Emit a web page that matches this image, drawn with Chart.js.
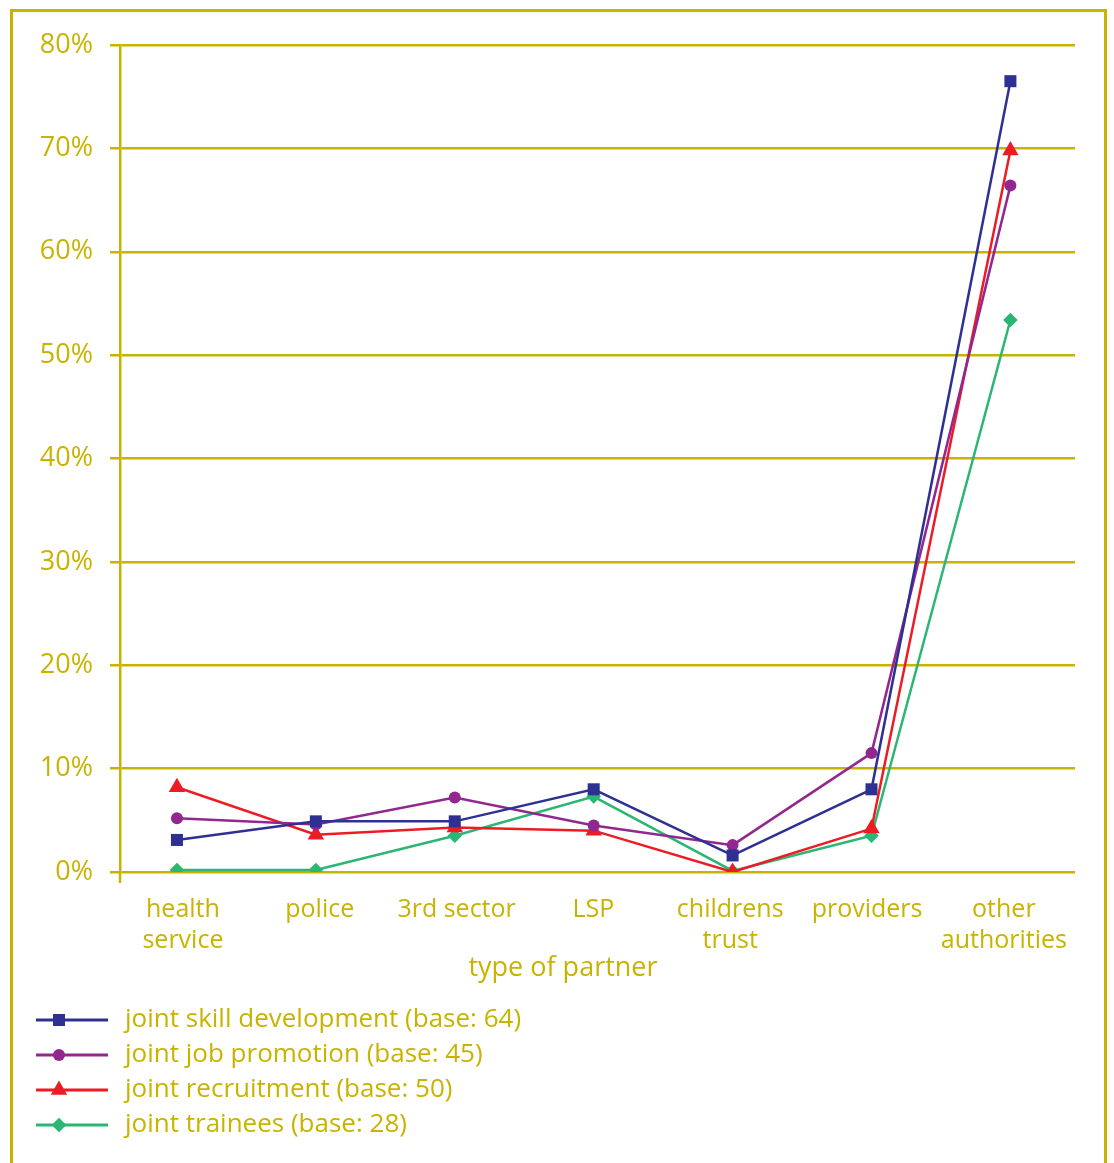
<!DOCTYPE html>
<html>
<head>
<meta charset="utf-8">
<script src="https://cdn.jsdelivr.net/npm/chart.js@4/dist/chart.umd.min.js"></script>
<style>
  html, body { margin: 0; padding: 0; background: #fff; overflow: hidden; }
  #wrap { position: relative; width: 1114px; height: 1163px; overflow: hidden; }
  #frame { position: absolute; left: 10px; top: 9px; width: 1091px; height: 1300px; border: 3px solid #c8b400; box-sizing: content-box; }
  canvas { position: absolute; left: 0; top: 0; }
</style>
</head>
<body>
<div id="wrap">
  <div id="frame"></div>
  <canvas id="c" width="1114" height="1163"></canvas>
</div>
<script>
// ---- data ----
const categories = [["health", "service"], "police", "3rd sector", "LSP", ["childrens", "trust"], "providers", ["other", "authorities"]];
const seriesNames = [
  "joint skill development (base: 64)",
  "joint job promotion (base: 45)",
  "joint recruitment (base: 50)",
  "joint trainees (base: 28)"
];
const skillDevelopment = [3.1, 4.9, 4.9, 8.0, 1.6, 8.0, 76.5];
const jobPromotion     = [5.2, 4.6, 7.2, 4.5, 2.6, 11.5, 66.4];
const recruitment      = [8.2, 3.6, 4.3, 4.0, 0.0, 4.2, 69.8];
const trainees         = [0.2, 0.2, 3.5, 7.3, 0.1, 3.5, 53.4];
const yTicks = [0, 10, 20, 30, 40, 50, 60, 70, 80];
const xTitle = "type of partner";

const OLIVE = '#c8b400';
const colors = ['#2e3192', '#92278f', '#ed1c24', '#2bb673'];
const styles = ['rect', 'circle', 'triangle', 'rectRot'];
const radii = [8.5, 6, 9.5, 7.3];
const values = [skillDevelopment, jobPromotion, recruitment, trainees];
const FONT = '"Open Sans", "Noto Sans", sans-serif';

const datasets = values.map((vals, k) => ({
  label: seriesNames[k],
  data: vals.map((v, i) => ({ x: i, y: v })),
  xAxisID: 'xp',
  borderColor: colors[k],
  backgroundColor: colors[k],
  borderWidth: 2.5,
  pointStyle: styles[k],
  pointRadius: radii[k],
  pointHoverRadius: radii[k],
  pointBackgroundColor: colors[k],
  pointBorderWidth: 0,
  tension: 0,
  fill: false
}));

const legendPlugin = {
  id: 'customLegend',
  afterDraw(chart) {
    const ctx = chart.ctx;
    const rows = [1020, 1055, 1090, 1125];
    ctx.save();
    chart.data.datasets.forEach((ds, k) => {
      const y = rows[k];
      ctx.strokeStyle = ds.borderColor;
      ctx.lineWidth = 3;
      ctx.beginPath();
      ctx.moveTo(36, y);
      ctx.lineTo(108, y);
      ctx.stroke();
      ctx.fillStyle = ds.borderColor;
      ctx.strokeStyle = ds.borderColor;
      Chart.helpers.drawPoint(ctx, { pointStyle: ds.pointStyle, radius: ds.pointRadius, rotation: 0, borderWidth: 0 }, 59, y);
      ctx.fillStyle = OLIVE;
      ctx.font = '26px ' + FONT;
      ctx.textAlign = 'left';
      ctx.textBaseline = 'middle';
      ctx.fillText(ds.label, 125, y);
    });
    // axis title (centred as in the reference)
    ctx.fillStyle = OLIVE;
    ctx.font = '27px ' + FONT;
    ctx.textAlign = 'center';
    ctx.textBaseline = 'middle';
    ctx.fillText(xTitle, 563, 968);
    // short extension of the y axis below the baseline
    const a = chart.chartArea;
    ctx.strokeStyle = OLIVE;
    ctx.lineWidth = 2.5;
    ctx.beginPath();
    ctx.moveTo(a.left, a.bottom);
    ctx.lineTo(a.left, a.bottom + 11);
    ctx.stroke();
    ctx.restore();
  }
};

new Chart(document.getElementById('c'), {
  type: 'line',
  data: { datasets },
  plugins: [legendPlugin],
  options: {
    responsive: false,
    devicePixelRatio: 1,
    animation: false,
    layout: { padding: { left: 0, top: 45, right: 39, bottom: 178 } },
    plugins: { legend: { display: false }, tooltip: { enabled: false } },
    scales: {
      xp: {
        type: 'linear',
        position: 'bottom',
        display: false,
        min: -0.41,
        max: 6.465
      },
      x: {
        type: 'linear',
        position: 'bottom',
        min: -0.46,
        max: 6.52,
        afterBuildTicks(scale) { scale.ticks = categories.map((c, i) => ({ value: i })); },
        afterFit(scale) { scale.height = 113; },
        grid: { display: false, drawTicks: false, tickLength: 0 },
        border: { display: false },
        ticks: {
          autoSkip: false,
          maxRotation: 0,
          padding: 22,
          color: OLIVE,
          font: { family: FONT, size: 25, lineHeight: 1.24 },
          callback: (v) => categories[v]
        },
        title: { display: false }
      },
      y: {
        type: 'linear',
        min: 0,
        max: 80,
        afterFit(scale) { scale.width = 120; },
        afterBuildTicks(scale) { scale.ticks = yTicks.map(v => ({ value: v })); },
        grid: { color: OLIVE, lineWidth: 2.5, tickLength: 10, drawTicks: true },
        border: { display: true, color: OLIVE, width: 2.5 },
        ticks: {
          padding: 17,
          color: OLIVE,
          font: { family: FONT, size: 27 },
          callback: (v) => v + '%'
        }
      }
    }
  }
});
</script>
</body>
</html>
